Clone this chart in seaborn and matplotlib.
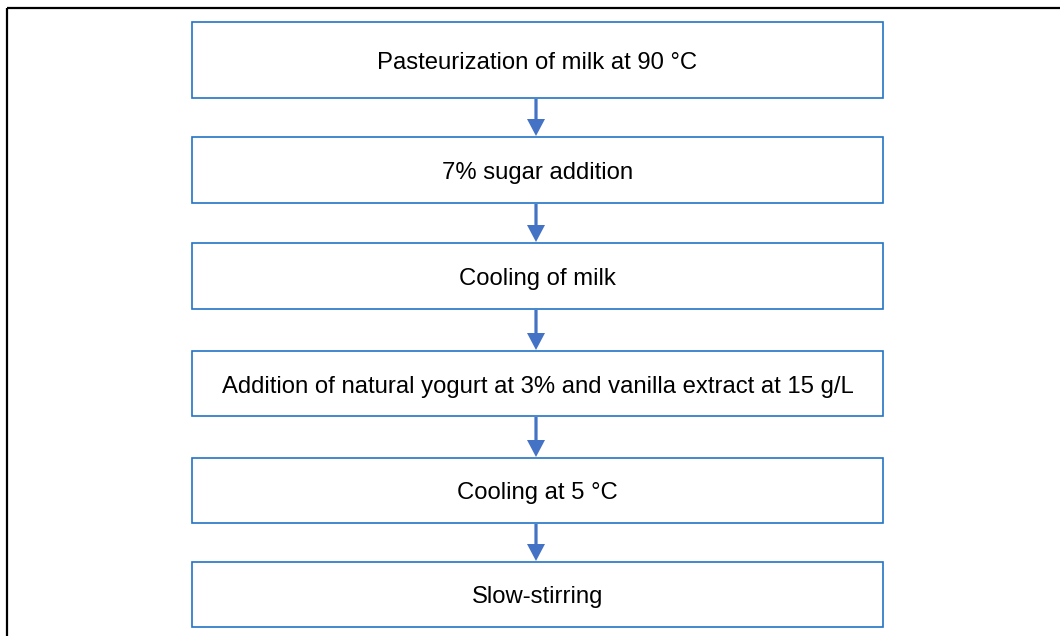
import matplotlib
matplotlib.use("Agg")
import matplotlib.pyplot as plt
import seaborn as sns
from matplotlib.patches import Rectangle

# ---- content ----
steps = [
    "Pasteurization of milk at 90 °C",
    "7% sugar addition",
    "Cooling of milk",
    "Addition of natural yogurt at 3% and vanilla extract at 15 g/L",
    "Cooling at 5 °C",
    "Slow-stirring",
]

# ---- layout (pixels) ----
W, H = 1060, 636
box_left, box_right = 192, 883
box_tops = [22, 137, 243, 351, 458, 562]
box_bottoms = [98, 203, 309, 416, 523, 627]
arrow_x = 536

sns.set_theme(style="white")
plt.rcParams['font.family'] = ['Liberation Sans', 'DejaVu Sans']

fig = plt.figure(figsize=(W / 100, H / 100), dpi=100)
ax = fig.add_axes([0, 0, 1, 1])
ax.set_xlim(0, W)
ax.set_ylim(H, 0)
ax.axis("off")

# outer frame (top + left)
ax.plot([7, W], [8, 8], color="black", lw=1.6, solid_capstyle="butt")
ax.plot([7, 7], [8, H], color="black", lw=1.6, solid_capstyle="butt")

box_edge = "#2273C4"
arrow_col = "#4472C4"

for i, label in enumerate(steps):
    t, b = box_tops[i], box_bottoms[i]
    ax.add_patch(Rectangle((box_left, t), box_right - box_left, b - t,
                           fill=False, edgecolor=box_edge, lw=1.2))
    ax.text((box_left + box_right) / 2, (t + b) / 2 + 3, label,
            ha="center", va="center", fontsize=17.2, color="black")
    if i < len(steps) - 1:
        y0 = b + 1
        y1 = box_tops[i + 1] - 1
        ax.arrow(arrow_x, y0, 0, y1 - y0, width=3.2, head_width=18,
                 head_length=17, length_includes_head=True,
                 color=arrow_col, lw=0)

fig.savefig("out.png", dpi=100, facecolor="white")
